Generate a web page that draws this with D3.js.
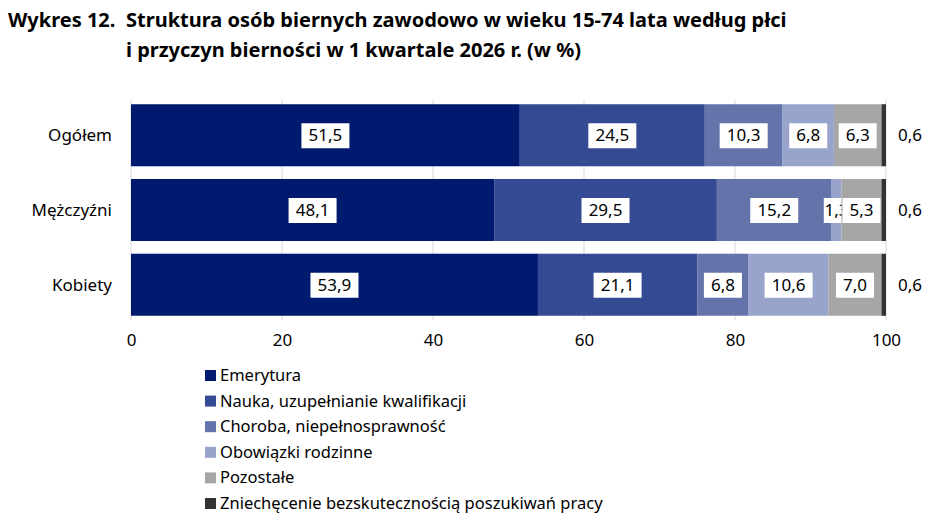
<!DOCTYPE html>
<html><head><meta charset="utf-8">
<script src="https://cdn.jsdelivr.net/npm/d3@7"></script>
<style>body{margin:0;background:#fff;font-family:"Noto Sans",sans-serif;}</style>
</head><body>
<svg id="c" width="948" height="531"></svg>
<script>
var categories = ["Ogółem", "Mężczyźni", "Kobiety"];
var seriesNames = ["Emerytura", "Nauka, uzupełnianie kwalifikacji", "Choroba, niepełnosprawność", "Obowiązki rodzinne", "Pozostałe", "Zniechęcenie bezskutecznością poszukiwań pracy"];
var emerytura = [51.5, 48.1, 53.9];
var nauka = [24.5, 29.5, 21.1];
var choroba = [10.3, 15.2, 6.8];
var obowiazki = [6.8, 1.3, 10.6];
var pozostale = [6.3, 5.3, 7.0];
var zniechecenie = [0.6, 0.6, 0.6];
var xTicks = [0, 20, 40, 60, 80, 100];
var colors = ["#001a70", "#344b94", "#6474aa", "#98a4cc", "#a6a6a6", "#333333"];

var series = [emerytura, nauka, choroba, obowiazki, pozostale, zniechecenie];
var svg = d3.select("#c");
var fmt = function(v){ return v.toFixed(1).replace(".", ","); };

svg.append("text").attr("x", 8).attr("y", 27).attr("font-weight", "bold").attr("font-size", 20).text("Wykres 12.");
svg.append("text").attr("x", 126).attr("y", 27).attr("font-weight", "bold").attr("font-size", 20).text("Struktura osób biernych zawodowo w wieku 15-74 lata według płci");
svg.append("text").attr("x", 126).attr("y", 57).attr("font-weight", "bold").attr("font-size", 20).text("i przyczyn bierności w 1 kwartale 2026 r. (w %)");

var x = d3.scaleLinear().domain([0, 100]).range([131, 886]);
var y = d3.scaleBand().domain(categories).range([102, 318]).paddingInner(0.17).paddingOuter(0.03);

svg.append("g").selectAll("line").data(xTicks).enter().append("line")
  .attr("x1", d => x(d)).attr("x2", d => x(d)).attr("y1", 100).attr("y2", 320)
  .attr("stroke", "#d9d9d9");

categories.forEach(function(cat, i){
  var acc = 0;
  series.forEach(function(s, j){
    var v = s[i];
    svg.append("rect").attr("x", x(acc)).attr("y", y(cat)).attr("width", x(v) - x(0)).attr("height", y.bandwidth()).attr("fill", colors[j]);
    var cx = x(acc + v / 2), cy = y(cat) + y.bandwidth() / 2;
    if (j < 5) {
      var t = fmt(v), w = t.length * 10 + 8;
      if (v < 2) w = t.length * 8.5;
      svg.append("rect").attr("x", cx - w / 2).attr("y", cy - 12).attr("width", w).attr("height", 25).attr("fill", "#fff");
      svg.append("text").attr("x", cx).attr("y", cy + 6).attr("text-anchor", "middle").attr("font-size", 17).attr("fill", "#000").text(t);
    } else {
      svg.append("text").attr("x", 898).attr("y", cy + 6).attr("font-size", 17).text(fmt(v));
    }
    acc += v;
  });
  svg.append("text").attr("x", 112).attr("y", y(cat) + y.bandwidth() / 2 + 6).attr("text-anchor", "end").attr("font-size", 17).text(cat);
});

var ax = svg.append("g").attr("transform", "translate(0,322)")
  .call(d3.axisBottom(x).tickValues(xTicks).tickSize(0).tickPadding(12));
ax.select(".domain").remove();
ax.selectAll("text").attr("font-size", 17).attr("font-family", "Noto Sans").attr("fill", "#000");

var lg = svg.append("g");
seriesNames.forEach(function(n, i){
  var ly = 376 + i * 25.6;
  lg.append("rect").attr("x", 205).attr("y", ly - 6).attr("width", 11).attr("height", 11).attr("fill", colors[i]);
  lg.append("text").attr("x", 220).attr("y", ly + 5).attr("font-size", 16.5).text(n);
});
</script>
</body></html>
